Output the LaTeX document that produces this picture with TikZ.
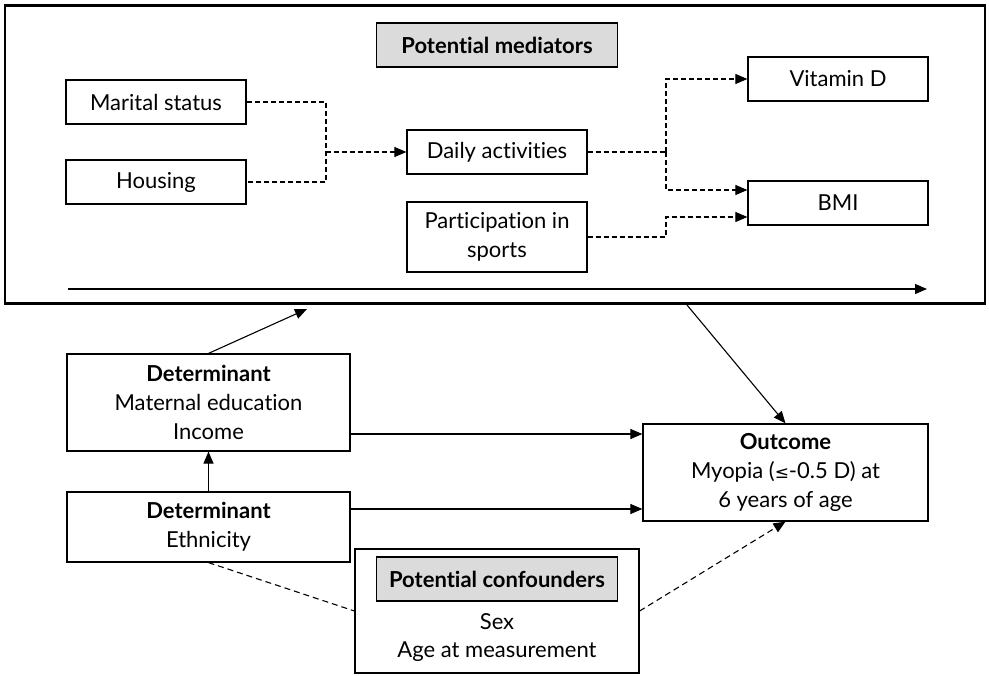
\documentclass[tikz,border=0pt]{standalone}
\usepackage{fontspec}
\setmainfont{Lato}[Ligatures=NoCommon]
\usetikzlibrary{arrows.meta}

\newcommand*{\boxw}{180pt}
\newcommand*{\bigw}{284pt}

\begin{document}
\begin{tikzpicture}
[
	x=1pt, y=-1pt,
	font=\fontsize{22pt}{29pt}\selectfont,
	>={Triangle[length=12pt,width=10pt]},
	plainbox/.style={draw,line width=1.2pt,inner sep=0pt,align=center,minimum width=\boxw,minimum height=44pt},
	graybox/.style={plainbox,fill=gray!28,font=\fontsize{22pt}{29pt}\selectfont\bfseries,minimum width=241pt},
	widebox/.style={plainbox,minimum width=\bigw},
	dashline/.style={line width=1.1pt,dash pattern=on 5pt off 3pt},
	longdash/.style={line width=1.1pt,dash pattern=on 6pt off 4pt},
	conn/.style={line width=1.1pt}
]
	\useasboundingbox (0,0) rectangle (989,676);

	% mediator frame
	\node[draw,line width=2.6pt,minimum width=980pt,minimum height=298pt,inner sep=0pt] at (495,154.5) (frame) {};
	\node[graybox] at (497,45) (medl) {Potential mediators};

	\node[plainbox] at (156,102) (marital) {Marital status};
	\node[plainbox] at (156,182) (housing) {Housing};
	\node[plainbox] at (497,152) (daily) {Daily activities};
	\node[plainbox,minimum height=70pt] at (497,237) (sports) {Participation in\\sports};
	\node[plainbox] at (838,79) (vitd) {Vitamin D};
	\node[plainbox] at (838,203) (bmi) {BMI};

	\coordinate (j1) at (326,152);
	\coordinate (j2) at (666,152);
	\draw[dashline] (marital.east) -| (j1) |- (housing.east);
	\draw[dashline,->] (j1) -- (daily.west);
	\draw[dashline] (daily.east) -- (j2);
	\draw[dashline,->] (j2) |- (vitd.west);
	\draw[dashline,->] (j2) |- ([yshift=13pt]bmi.west);
	\draw[dashline,->] (sports.east) -- (sports.east -| j2) |- ([yshift=-14pt]bmi.west);

	% time line
	\coordinate (t0) at (68,289);
	\coordinate (t1) at (927,289);
	\draw[conn,->] (t0) -- (t1);

	% determinants, outcome, confounders
	\node[widebox,minimum width=283pt,minimum height=97pt] at (208.5,402.5) (det1)
		{\textbf{Determinant}\\Maternal education\\Income};
	\node[widebox,minimum width=283pt,minimum height=70pt] at (208.5,527) (det2)
		{\textbf{Determinant}\\Ethnicity};
	\node[widebox,minimum width=285pt,minimum height=97pt] at (785.5,472.5) (outcome)
		{\textbf{Outcome}\\Myopia ({\fontspec{DejaVu Sans}\fontsize{17pt}{29pt}\selectfont ≤}-0.5 D) at\\6 years of age};
	\node[widebox,minimum height=124pt] at (497,611) (conf) {};
	\node[graybox] at (497,579) (confl) {Potential confounders};
	\node at (497,622) (sex) {Sex};
	\node at (497,652) (age) {Age at measurement};

	\coordinate (min) at (307,309);
	\coordinate (mout) at (687,305);

	\draw[conn,->] (det2.north) -- (det1.south);
	\draw[conn,->] (det1.north) -- (min);
	\draw[conn,->] (mout) -- (outcome.north);
	\draw[conn,->] ([yshift=-31.5pt]det1.east) -- ([yshift=-31.5pt]det1.east -| outcome.west);
	\draw[conn,->] ([yshift=18pt]det2.east) -- ([yshift=18pt]det2.east -| outcome.west);
	\draw[longdash] (det2.south) -- (conf.west);
	\draw[longdash,->] (conf.east) -- (outcome.south);

\end{tikzpicture}
\end{document}
